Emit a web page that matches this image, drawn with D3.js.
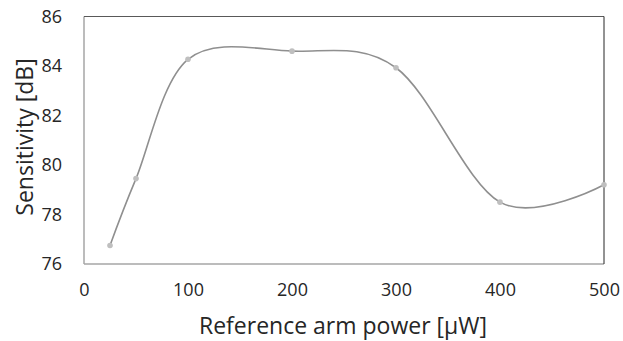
<!DOCTYPE html>
<html>
<head>
<meta charset="utf-8">
<script src="https://cdn.jsdelivr.net/npm/d3@7/dist/d3.min.js"></script>
<style>
  body { margin: 0; background: #fff; }
  text { font-family: "Open Sans", "Noto Sans", sans-serif; fill: #262626; }
</style>
</head>
<body>
<div id="chart"></div>
<script>
const powers = [25, 50, 100, 200, 300, 400, 500]
const sensitivity = [76.75, 79.45, 84.27, 84.6, 83.93, 78.5, 79.2]
const xTicks = [0, 100, 200, 300, 400, 500]
const yTicks = [76, 78, 80, 82, 84, 86]

const W = 623
const H = 341
const margin = { top: 16.5, left: 84, right: 19, bottom: 77 }
const width = W - margin.left - margin.right
const height = H - margin.top - margin.bottom

const svg = d3.select('#chart').append('svg')
  .attr('width', W)
  .attr('height', H)

const g = svg.append('g')
  .attr('transform', `translate(${margin.left},${margin.top})`)

const xScale = d3.scaleLinear().domain([0, 500]).range([0, width])
const yScale = d3.scaleLinear().domain([76, 86]).range([height, 0])

// frame: light left/bottom, darker top/right
g.append('line').attr('x1', 0).attr('x2', 0).attr('y1', 0).attr('y2', height)
  .style('stroke', '#a6a6a6').style('stroke-width', 1.5)
g.append('line').attr('x1', 0).attr('x2', width).attr('y1', height).attr('y2', height)
  .style('stroke', '#a6a6a6').style('stroke-width', 1.5)
g.append('line').attr('x1', 0).attr('x2', width).attr('y1', 0).attr('y2', 0)
  .style('stroke', '#595959').style('stroke-width', 1)
g.append('line').attr('x1', width).attr('x2', width).attr('y1', 0).attr('y2', height)
  .style('stroke', '#262626').style('stroke-width', 1)

let yaxis = g.append('g')
  .call(d3.axisLeft(yScale).tickValues(yTicks).tickSize(0).tickPadding(22))
yaxis.select('.domain').remove()
yaxis.selectAll('text').style('font-size', '18px').attr('fill', '#262626')

let xaxis = g.append('g')
  .attr('transform', `translate(0,${height})`)
  .call(d3.axisBottom(xScale).tickValues(xTicks).tickSize(0).tickPadding(19))
xaxis.select('.domain').remove()
xaxis.selectAll('text').style('font-size', '18px').attr('fill', '#262626')

const data = powers.map((p, i) => ({ x: p, y: sensitivity[i] }))

g.append('path')
  .datum(data)
  .style('fill', 'none')
  .style('stroke', '#8f8f8f')
  .style('stroke-width', 1.6)
  .attr('d', d3.line()
    .x(d => xScale(d.x))
    .y(d => yScale(d.y))
    .curve(d3.curveCardinal.tension(0)))

g.append('g')
  .selectAll('circle')
  .data(data)
  .enter()
  .append('circle')
  .attr('r', 2.8)
  .attr('cx', d => xScale(d.x))
  .attr('cy', d => yScale(d.y))
  .style('fill', '#bfbfbf')

svg.append('text')
  .attr('x', 343)
  .attr('y', 334)
  .attr('text-anchor', 'middle')
  .style('font-size', '23px')
  .text('Reference arm power [\u03bcW]')

svg.append('text')
  .attr('transform', `translate(33,137) rotate(-90)`)
  .attr('text-anchor', 'middle')
  .style('font-size', '23px')
  .text('Sensitivity [dB]')
</script>
</body>
</html>
